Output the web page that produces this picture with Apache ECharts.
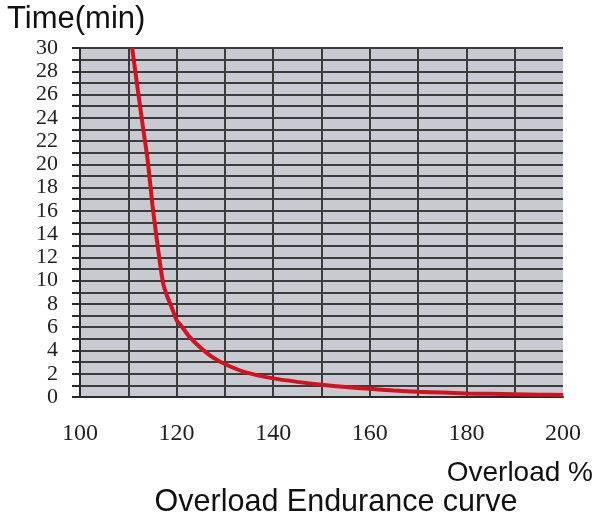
<!DOCTYPE html>
<html>
<head>
<meta charset="utf-8">
<script src="https://cdn.jsdelivr.net/npm/echarts@6/dist/echarts.min.js"></script>
<style>html,body{margin:0;padding:0;background:#fff;}#c{width:598px;height:516px;}</style>
</head>
<body>
<div id="c"></div>
<script>
// Data
const overloadPct = [110.8,112,113,114,115,116.2,117.2,118,119,120,121,122.4,124.8,127.5,130.4,134.5,140,145,150,155,160,165,170,175,180,185,190,195,200];
const timeMin     = [30,26.3,23.3,20.4,16.5,12.6,9.8,8.7,7.7,6.6,6.1,5.3,4.3,3.4,2.75,2.1,1.6,1.3,1.05,0.85,0.7,0.55,0.45,0.38,0.3,0.27,0.24,0.2,0.18];
const xTicks = [100,120,140,160,180,200];
const yTicks = [0,2,4,6,8,10,12,14,16,18,20,22,24,26,28,30];
const yAxisTitle = 'Time(min)';
const xAxisTitle = 'Overload %';
const chartTitle = 'Overload Endurance curve';

const chart = echarts.init(document.getElementById('c'), null, {renderer:'canvas'});
const gridLine = {color:'#3c3c3c', width:2};
chart.setOption({
  animation:false,
  grid:{left:80, right:35, top:48, bottom:119, show:true, backgroundColor:'#c7cad1', borderWidth:0},
  xAxis:{
    type:'value', min:xTicks[0], max:xTicks[xTicks.length-1], interval:20,
    axisLine:{show:true, lineStyle:{color:'#2a2a2a', width:2}},
    axisTick:{show:false},
    axisLabel:{margin:25, fontFamily:'Liberation Serif', fontSize:24, color:'#222'},
    splitLine:{show:true, showMinLine:false, showMaxLine:false, lineStyle:gridLine},
    minorTick:{show:false, splitNumber:2},
    minorSplitLine:{show:true, lineStyle:gridLine}
  },
  yAxis:{
    type:'value', min:yTicks[0], max:yTicks[yTicks.length-1], interval:2,
    axisLine:{show:true, lineStyle:{color:'#2a2a2a', width:2}},
    axisTick:{show:true, length:8, lineStyle:{color:'#2a2a2a', width:2}},
    minorTick:{show:true, splitNumber:2, length:8, lineStyle:{color:'#2a2a2a', width:2}},
    axisLabel:{margin:22, fontFamily:'Liberation Serif', fontSize:22, color:'#222'},
    splitLine:{show:true, showMinLine:false, lineStyle:gridLine},
    minorSplitLine:{show:true, lineStyle:gridLine}
  },
  series:[{
    type:'line', data:overloadPct.map((x,i)=>[x,timeMin[i]]),
    smooth:0.15, symbol:'none',
    lineStyle:{color:'#d4121f', width:4}
  }],
  graphic:[
    {type:'text', x:7, y:4, style:{text:yAxisTitle, font:'31px "Liberation Sans"', fill:'#111', verticalAlign:'top'}},
    {type:'text', x:593, y:459, style:{text:xAxisTitle, font:'28px "Liberation Sans"', fill:'#111', align:'right', verticalAlign:'top'}},
    {type:'text', x:336, y:487, style:{text:chartTitle, font:'30.5px "Liberation Sans"', fill:'#111', align:'center', verticalAlign:'top'}}
  ]
});
</script>
</body>
</html>
